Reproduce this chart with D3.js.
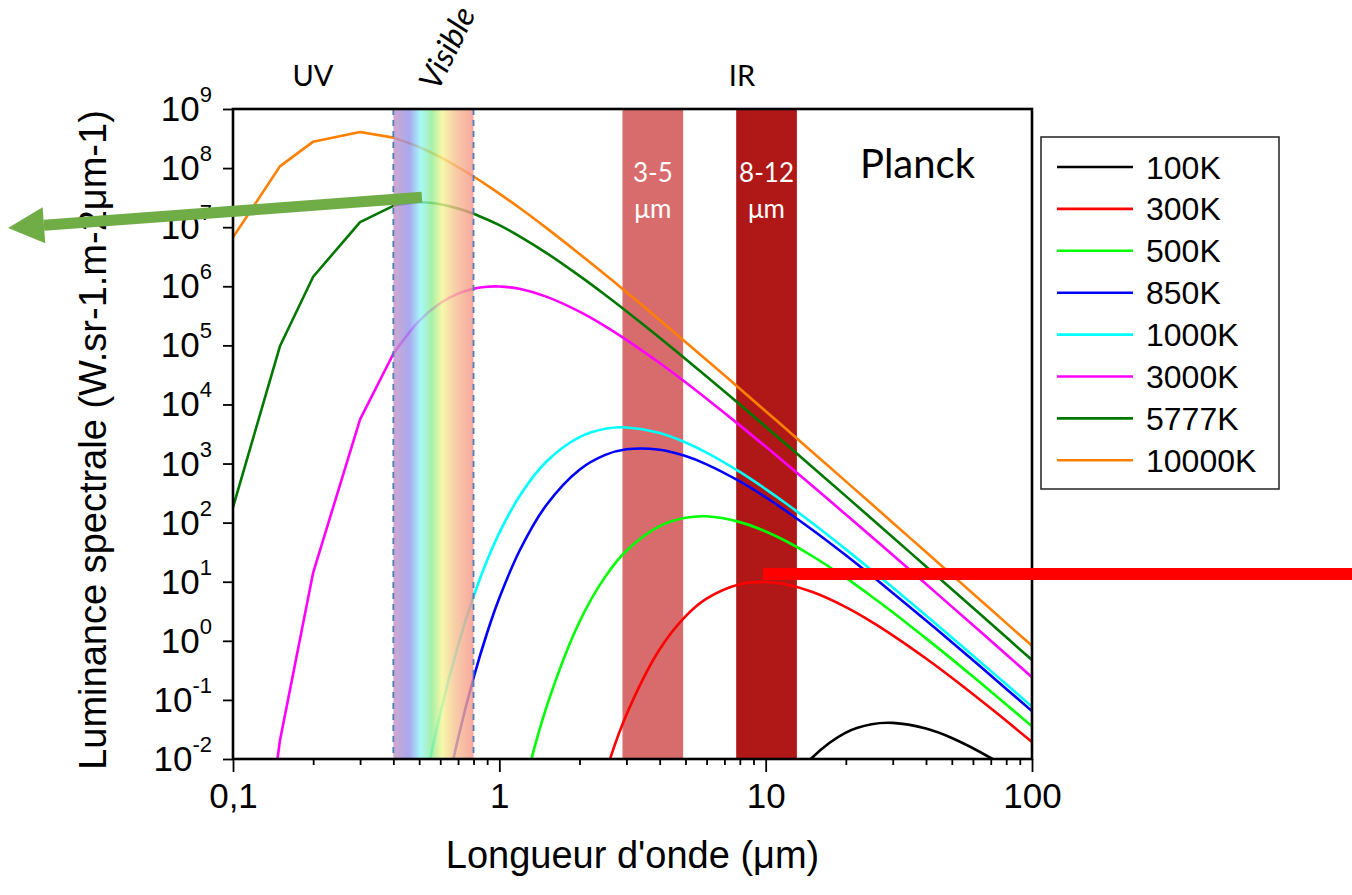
<!DOCTYPE html>
<html><head><meta charset="utf-8">
<script src="https://cdn.jsdelivr.net/npm/d3@7"></script>
<style>body{margin:0;background:#fff} svg{display:block}</style>
</head><body>
<svg id="chart" width="1352" height="895"></svg>
<script>
// ---------- DATA ----------
const wavelengths = [0.1,0.15,0.2,0.3,0.4,0.5,0.6,0.7,0.8,0.9,
                     1,1.2,1.5,2,2.5,3,4,5,6,8,
                     10,12,15,20,25,30,40,50,70,100];
const temperatures = ["100K","300K","500K","850K","1000K","3000K","5777K","10000K"];
const seriesColors = ["#000000","#ff0000","#00ff00","#0000ff","#00ffff","#ff00ff","#007800","#ff8000"];
const N = null;
const L100K   = [N,N,N,N,N,N,N,N,N,N, N,N,N,N,N,N,N,N,N,5.62e-5,
                 6.72e-4,2.97e-3,0.0107,0.028,0.0387,0.0408,0.0328,0.0227,0.0104,0.0037];
const L300K   = [N,N,N,N,N,N,N,N,N,N, N,N,N,1.43e-4,5.69e-3,0.0559,0.72,2.6,5.18,9.08,
                 9.92,8.96,6.68,3.72,2.1,1.24,0.502,0.237,0.072,0.0194];
const L500K   = [N,N,N,N,N,N,N,N,8.7e-8,2.62e-6, 3.79e-5,1.84e-3,0.0731,2.1,12.2,33.5,87.4,121,128,102,
                 71,47.9,27,11.6,5.64,3.05,1.10,0.49,0.139,0.0357];
const L850K   = [N,N,N,N,N,7.56e-6,8.57e-4,0.0223,0.235,1.37, 5.3,35.8,197,786,1400,1743,1714,1336,970,498,
                 269,154.5,75,28,12.6,6.47,2.21,0.946,0.259,0.0646];
const L1000K  = [N,N,N,N,2.78e-6,1.21e-3,0.059,0.839,5.62,23, 67.2,297,1071,2797,3874,4083,3277,2272,1532,721,
                 370,207,97.4,35.3,15.7,7.96,2.69,1.14,0.31,0.077];
const L3000K  = [1.77e-8,0.0204,14.3,5590,7.22e4,2.6e5,5.18e5,7.5e5,9.08e5,9.83e5,
                 9.92e5,8.96e5,6.68e5,3.72e5,2.1e5,1.24e5,5.02e4,2.37e4,1.25e4,4426,
                 1935,974,416,137,57.7,28.3,9.13,3.79,1.0,0.242];
const L5777K  = [182,9.65e4,1.45e6,1.22e7,2.3e7,2.64e7,2.45e7,2.08e7,1.69e7,1.35e7,
                 1.08e7,6.87e6,3.68e6,1.5e6,7.14e5,3.79e5,1.35e5,5.9e4,2.98e4,9951,
                 4211,2075,868,281,116,56.6,18.1,7.46,1.96,0.472];
const L10000K = [6.72e6,1.07e8,2.8e8,4.08e8,3.28e8,2.27e8,1.53e8,1.04e8,7.21e7,5.11e7,
                 3.7e7,2.07e7,9.74e6,3.53e6,1.57e6,7.96e5,2.69e5,1.14e5,5.65e4,1.85e4,
                 7700,3757,1558,499,206,99.8,31.8,13.05,3.41,0.822];
const seriesValues = [L100K,L300K,L500K,L850K,L1000K,L3000K,L5777K,L10000K];

const xTickValues = [0.1,1,10,100];
const xTickLabels = ["0,1","1","10","100"];
const yTickExponents = [-2,-1,0,1,2,3,4,5,6,7,8,9];

const visibleBand = [0.4, 0.8];
const irBandLo = [2.9, 7.75];
const irBandHi = [4.9, 13.1];
const irBandLabel1 = ["3-5","8-12"];
const irBandLabel2 = ["μm","μm"];
const irBandColors = ["#d86b6b","#b01818"];

// coarse UV sampling (drawn as straight segments) ends here
const coarseLimit = 0.4;

// annotation anchors in data coordinates
const greenArrowFrom = [0.512, 3.2e7];
const greenArrowTo   = [0.0143, 9.7e6];
const redBarFrom = [9.78, 13.5];
const redBarTo   = [1700, 13.5];

// ---------- LAYOUT ----------
const plot = {left:233, right:1032, top:109, bottom:759};
const svg = d3.select("#chart");
const x = d3.scaleLog().domain([0.1,100]).range([plot.left, plot.right]);
const y = d3.scaleLog().domain([1e-2,1e9]).range([plot.bottom, plot.top]);
const AX = "'Liberation Sans', Arial, sans-serif";
const OF = "Lato, 'Open Sans', sans-serif";

const defs = svg.append("defs");
defs.append("clipPath").attr("id","clip").append("rect")
  .attr("x",plot.left).attr("y",plot.top)
  .attr("width",plot.right-plot.left).attr("height",plot.bottom-plot.top);
const grad = defs.append("linearGradient").attr("id","rainbow")
  .attr("x1","0%").attr("x2","100%").attr("y1","0%").attr("y2","0%");
[["0%","#c492c4"],["20%","#9292ec"],["34%","#92f6f6"],["48%","#92ec92"],
 ["61%","#f6f692"],["76%","#f6c492"],["100%","#f69288"]].forEach(s=>
  grad.append("stop").attr("offset",s[0]).attr("stop-color",s[1]));

// IR bands (under curves)
const bands = svg.append("g");
irBandLo.forEach((lo,i)=>{
  bands.append("rect").attr("x",x(lo)).attr("y",plot.top)
    .attr("width",x(irBandHi[i])-x(lo)).attr("height",plot.bottom-plot.top)
    .attr("fill",irBandColors[i]);
  const cx = (x(lo)+x(irBandHi[i]))/2;
  bands.append("text").attr("x",cx).attr("y",182).attr("text-anchor","middle")
    .attr("font-family",OF).attr("font-size",26).attr("fill","#fff").text(irBandLabel1[i]);
  bands.append("text").attr("x",cx).attr("y",218).attr("text-anchor","middle")
    .attr("font-family",OF).attr("font-size",26).attr("fill","#fff").text(irBandLabel2[i]);
});

// Curves: straight segments in the coarse UV part, smooth afterwards
const lineLin = d3.line().x(d=>x(d[0])).y(d=>y(d[1]));
const lineSmooth = d3.line().x(d=>x(d[0])).y(d=>y(d[1]))
  .curve(d3.curveCatmullRom.alpha(0.5));
const curves = svg.append("g").attr("clip-path","url(#clip)");
seriesValues.forEach((vals,i)=>{
  const pts = wavelengths.map((w,j)=>[w,vals[j]]).filter(d=>d[1]!=null);
  const a = pts.filter(d=>d[0]<=coarseLimit);
  const b = pts.filter(d=>d[0]>=coarseLimit);
  const d = (a.length>1 ? lineLin(a) : "") + (b.length>1 ? lineSmooth(b).replace(/^M/, a.length>1 ? "L" : "M") : "");
  curves.append("path").attr("d",d).attr("fill","none").attr("stroke",seriesColors[i])
    .attr("stroke-width",2.6).attr("stroke-linejoin","round");
});

// Visible band (over curves)
const vis = svg.append("g");
vis.append("rect").attr("x",x(visibleBand[0])).attr("y",plot.top)
  .attr("width",x(visibleBand[1])-x(visibleBand[0])).attr("height",plot.bottom-plot.top)
  .attr("fill","url(#rainbow)").attr("opacity",0.8);
visibleBand.forEach(v=>{
  vis.append("line").attr("x1",x(v)).attr("x2",x(v)).attr("y1",plot.top).attr("y2",plot.bottom)
    .attr("stroke","#4a7ebb").attr("stroke-width",1.8).attr("stroke-dasharray","6,5");
});

// Axes
const yMinor = [];
for (let e=-2;e<9;e++) for (let k=2;k<10;k++) yMinor.push(k*Math.pow(10,e));
const xMinor = [];
for (let e=-1;e<2;e++) for (let k=2;k<10;k++) xMinor.push(k*Math.pow(10,e));
const yMajor = yTickExponents.map(e=>Math.pow(10,e));

const gy = svg.append("g").attr("transform",`translate(${plot.left},0)`);
gy.call(d3.axisLeft(y).tickValues(yMinor).tickSize(5).tickFormat(""));
gy.call(d3.axisLeft(y).tickValues(yMajor).tickSize(10).tickFormat(""));
gy.selectAll("path.domain").remove();

const gx = svg.append("g").attr("transform",`translate(0,${plot.bottom})`);
gx.call(d3.axisBottom(x).tickValues(xMinor).tickSize(6).tickFormat(""));
const gxMaj = svg.append("g").attr("transform",`translate(0,${plot.bottom})`);
gxMaj.call(d3.axisBottom(x).tickValues(xTickValues).tickSize(13).tickPadding(11)
  .tickFormat((d,i)=>xTickLabels[i]));
gx.selectAll("path.domain").remove();
gxMaj.selectAll("path.domain").remove();
svg.selectAll(".tick line").attr("stroke","#000").attr("stroke-width",1.8);
gxMaj.selectAll("text").attr("font-family",AX).attr("font-size",35).attr("fill","#000");

// y tick labels 10^n
const ylab = svg.append("g").attr("font-family",AX).attr("fill","#000");
yTickExponents.forEach(e=>{
  const t = ylab.append("text").attr("x",plot.left-21).attr("y",y(Math.pow(10,e))+12)
    .attr("text-anchor","end");
  t.append("tspan").attr("font-size",35).text("10");
  t.append("tspan").attr("font-size",22).attr("dy",-19).text(String(e));
});

// Frame
svg.append("rect").attr("x",plot.left).attr("y",plot.top)
  .attr("width",plot.right-plot.left).attr("height",plot.bottom-plot.top)
  .attr("fill","none").attr("stroke","#000").attr("stroke-width",2.6);

// Axis titles
svg.append("text").attr("x",(plot.left+plot.right)/2).attr("y",868).attr("text-anchor","middle")
  .attr("font-family",AX).attr("font-size",38).text("Longueur d'onde (μm)");
svg.append("text").attr("transform",`translate(106,440) rotate(-90)`).attr("text-anchor","middle")
  .attr("font-family",AX).attr("font-size",38).text("Luminance spectrale (W.sr-1.m-2μm-1)");

// Region labels
svg.append("text").attr("x",313).attr("y",86).attr("text-anchor","middle")
  .attr("font-family",OF).attr("font-size",29).text("UV");
svg.append("text").attr("x",742).attr("y",86).attr("text-anchor","middle")
  .attr("font-family",OF).attr("font-size",29).text("IR");
svg.append("text").attr("transform","translate(438,92) rotate(-64)")
  .attr("font-family",OF).attr("font-style","italic").attr("font-size",32).text("Visible");
svg.append("text").attr("x",860).attr("y",178)
  .attr("font-family",OF).attr("font-size",40).text("Planck");

// Legend
const lg = svg.append("g");
lg.append("rect").attr("x",1041).attr("y",137).attr("width",238).attr("height",352)
  .attr("fill","#fff").attr("stroke","#222").attr("stroke-width",1.5);
temperatures.forEach((t,i)=>{
  const ly = 167 + i*41.9;
  lg.append("line").attr("x1",1057).attr("x2",1133).attr("y1",ly).attr("y2",ly)
    .attr("stroke",seriesColors[i]).attr("stroke-width",2.6);
  lg.append("text").attr("x",1146).attr("y",ly+11.5).attr("font-family",AX)
    .attr("font-size",32).text(t);
});

// Annotations
const ax0 = x(greenArrowFrom[0]), ay0 = y(greenArrowFrom[1]);
const ax1 = x(greenArrowTo[0]), ay1 = y(greenArrowTo[1]);
const ang = Math.atan2(ay1-ay0, ax1-ax0);
const headL = 36, headW = 36;
const bx = ax1 - headL*Math.cos(ang), by = ay1 - headL*Math.sin(ang);
svg.append("line").attr("x1",ax0).attr("y1",ay0).attr("x2",bx).attr("y2",by)
  .attr("stroke","#70ad47").attr("stroke-width",11);
const px = -Math.sin(ang), py = Math.cos(ang);
svg.append("path").attr("fill","#70ad47")
  .attr("d",`M${ax1},${ay1}L${bx+px*headW/2},${by+py*headW/2}L${bx-px*headW/2},${by-py*headW/2}Z`);
svg.append("line").attr("x1",x(redBarFrom[0])).attr("x2",x(redBarTo[0]))
  .attr("y1",y(redBarFrom[1])).attr("y2",y(redBarTo[1]))
  .attr("stroke","#ff0000").attr("stroke-width",12);
</script>
</body></html>
